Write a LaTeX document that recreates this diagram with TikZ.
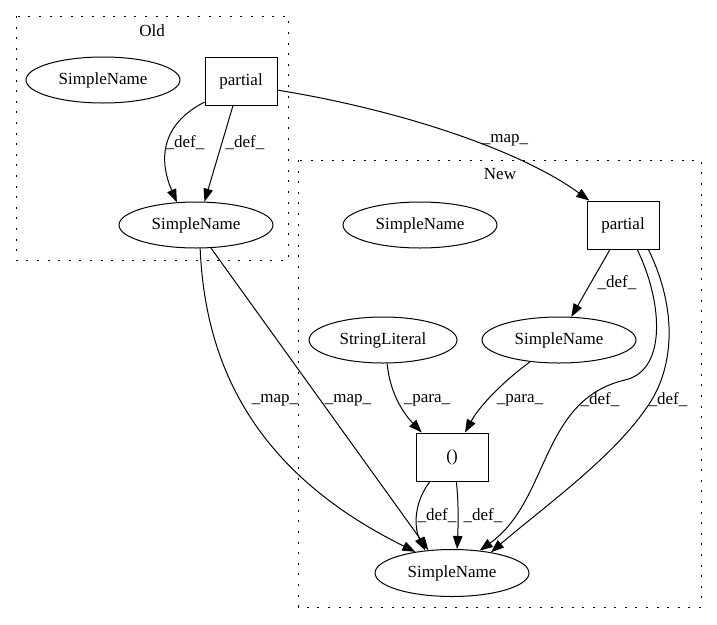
\documentclass[tikz,border=0pt]{standalone}
\usepackage{fontspec}
\setmainfont{Liberation Serif}
\usetikzlibrary{arrows.meta,shapes.geometric}
\begin{document}
\begin{tikzpicture}[x=1pt,y=-1pt,line width=1pt,
      every node/.style={font=\fontsize{17}{20}\selectfont},
      namenode/.style={draw,shape=ellipse,inner sep=0pt,minimum width=154pt,minimum height=46pt},
      opbox/.style={draw,shape=rectangle,inner sep=0pt,minimum width=72pt,minimum height=48pt},
      link/.style={-{Triangle[length=13pt,width=9.5pt]}},
      clus/.style={dash pattern=on 2pt off 8.6pt}]
      \useasboundingbox (0,0) rectangle (717,624) ;
      \draw[clus] (16,16) rectangle (288,260) ;
      \draw[clus] (298,160) rectangle (701,607) ;
      \node (old) at (152,31) {Old} ;
      \node (new) at (500,174) {New} ;
      \node[namenode] (os1) at (103,80) {SimpleName} ;
      \node[opbox] (op1) at (241,81) {partial} ;
      \node[namenode] (os2) at (196,225) {SimpleName} ;
      \node[namenode] (ns1) at (420,225) {SimpleName} ;
      \node[opbox] (np1) at (623,225) {partial} ;
      \node[namenode,minimum width=148pt] (lit) at (383,340) {StringLiteral} ;
      \node[namenode] (ns2) at (559,340) {SimpleName} ;
      \node[opbox] (call) at (452,457) {()} ;
      \node[namenode,minimum height=47pt] (ns3) at (452,573) {SimpleName} ;
      \draw[link] (op1.210) .. controls (150,130) and (165,175) .. (os2.130) ;
      \draw[link] (op1.252) -- (os2.70) ;
      \draw[link] (op1.346) .. controls (400,110) and (520,150) .. (np1.144) ;
      \draw[link] (os2.280) .. controls (205,360) and (250,470) .. (ns3.150) ;
      \draw[link] (os2.303) -- (ns3.136) ;
      \draw[link] (np1.242) -- (ns2.62) ;
      \draw[link] (np1.300) .. controls (662,300) and (668,370) .. (625,380) %
      .. controls (540,400) and (550,500) .. (ns3.39) ;
      \draw[link] (np1.316) .. controls (678,310) and (675,370) .. (645,410) %
      .. controls (610,460) and (540,510) .. (ns3.28) ;
      \draw[link] (lit.280) .. controls (390,395) and (405,415) .. (call.141) ;
      \draw[link] (ns2.217) .. controls (505,380) and (480,405) .. (call.62) ;
      \draw[link] (call.228) .. controls (412,505) and (415,530) .. (ns3.140) ;
      \draw[link] (call.280) .. controls (459,505) and (458,530) .. (ns3.78) ;
      \node (d1) at (185,143) {\_def\_} ;
      \node (d2) at (245,143) {\_def\_} ;
      \node (m1) at (505,140) {\_map\_} ;
      \node (m2) at (275,400) {\_map\_} ;
      \node (m3) at (348,400) {\_map\_} ;
      \node (d3) at (617,283) {\_def\_} ;
      \node (d4) at (600,400) {\_def\_} ;
      \node (d5) at (668,400) {\_def\_} ;
      \node (p1) at (427,400) {\_para\_} ;
      \node (p2) at (520,400) {\_para\_} ;
      \node (d6) at (437,516) {\_def\_} ;
      \node (d7) at (483,516) {\_def\_} ;
\end{tikzpicture}
\end{document}
